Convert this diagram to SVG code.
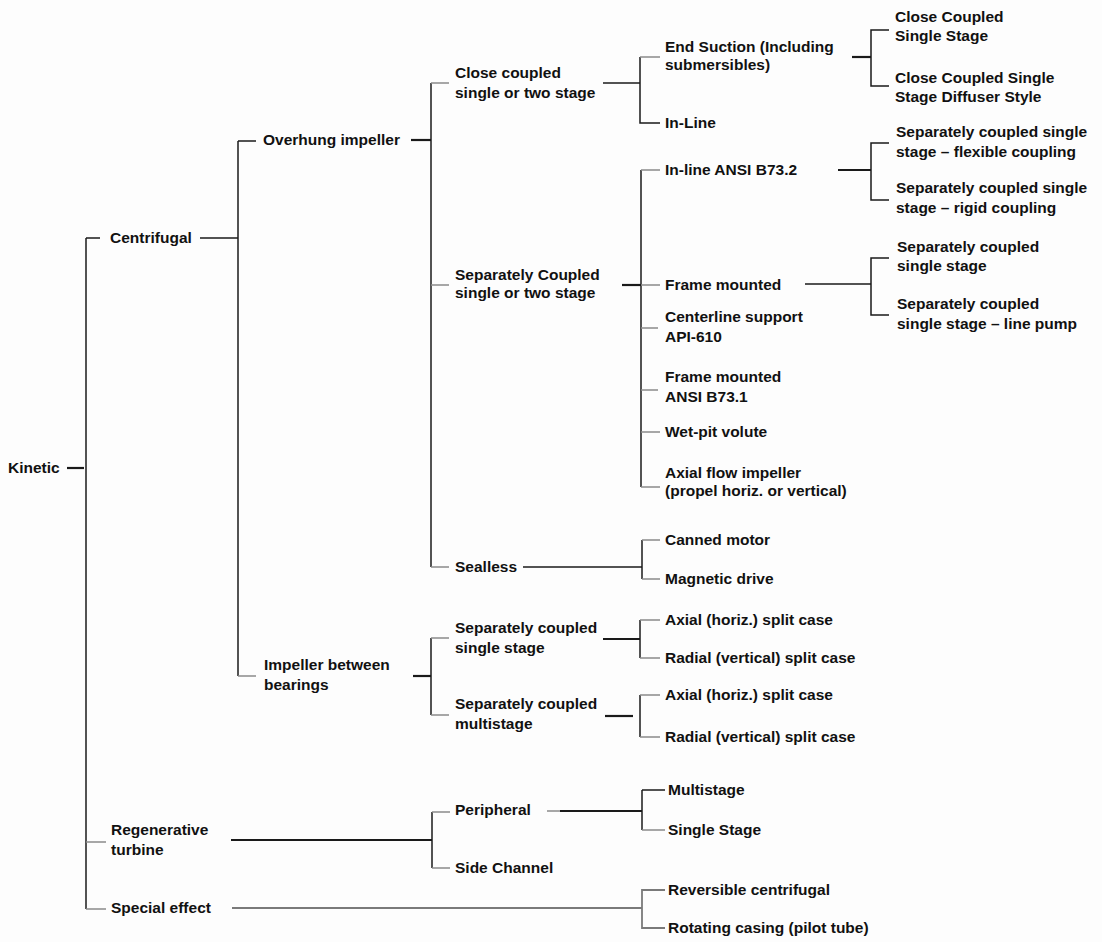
<svg xmlns="http://www.w3.org/2000/svg" width="1102" height="942" viewBox="0 0 1102 942">
<style>
text{font-family:"Liberation Sans",Arial,Helvetica,sans-serif;font-size:15.5px;font-weight:bold;fill:#111;}
.c{fill:none;stroke:#1a1a1a;stroke-width:1.5;}
.k{fill:none;stroke:#1a1a1a;stroke-width:2.2;}
.t{fill:none;stroke:#8a8a8a;stroke-width:1.5;}
.g{fill:none;stroke:#7a7a7a;stroke-width:1.8;}
</style>
<rect width="1102" height="942" fill="#fdfdfd"/>
<g id="connectors">
<!-- Kinetic -->
<path class="k" d="M67 468H84"/>
<path class="c" d="M86 238V909"/>
<path class="c" d="M86 238H100"/>
<path class="t" d="M86 842H106M86 909H106"/>
<!-- Centrifugal -->
<path class="c" d="M200 238H238"/>
<path class="c" d="M238 141V676"/>
<path class="c" d="M238 141H256"/>
<path class="t" d="M238 676H256"/>
<!-- Overhung -->
<path class="k" d="M411 140H431"/>
<path class="c" d="M431 83V567"/>
<path class="t" d="M431 83H449M431 285H449M431 567H449"/>
<!-- Impeller between bearings -->
<path class="k" d="M413 676H431"/>
<path class="c" d="M431 638V715"/>
<path class="t" d="M431 638H449M431 715H449"/>
<!-- Close coupled -->
<path class="c" d="M603 83H640"/>
<path class="c" d="M640 57V123H660"/>
<path class="t" d="M640 57H660"/>
<path class="k" d="M852 57H871"/>
<path class="c" d="M889 30H871V86H889"/>
<!-- Separately Coupled -->
<path class="k" d="M622 285H641"/>
<path class="c" d="M641 170V487"/>
<path class="t" d="M641 170H660M641 285H660M641 328H658M641 390H658M641 432H660M641 487H660"/>
<path class="k" d="M838 170H871"/>
<path class="c" d="M889 143H871V200H889"/>
<path class="c" d="M805 284H871"/>
<path class="c" d="M889 258H871V315H889"/>
<!-- Sealless -->
<path class="c" d="M523 567H642"/>
<path class="c" d="M642 540V579"/>
<path class="t" d="M642 540H660M642 579H660"/>
<!-- SC single stage -->
<path class="k" d="M603 639H640"/>
<path class="c" d="M640 620V658"/>
<path class="t" d="M640 620H660M640 658H660"/>
<!-- SC multistage -->
<path class="k" d="M605 716H633"/>
<path class="c" d="M640 695V737"/>
<path class="t" d="M640 695H660M640 737H660"/>
<!-- Regenerative -->
<path class="k" d="M231 840H432"/>
<path class="c" d="M432 812V868"/>
<path class="t" d="M432 812H450M432 868H450"/>
<path class="t" d="M547 811H560"/>
<path class="k" d="M560 811H642"/>
<path class="c" d="M642 790V830"/>
<path class="c" d="M642 790H665"/>
<path class="t" d="M642 830H665"/>
<!-- Special effect -->
<path class="g" d="M232 908H642"/>
<path class="g" d="M665 890H642V928H665"/>
</g>
<g id="n-kinetic"><text x="8" y="473">Kinetic</text></g>
<g id="n-centrifugal"><text x="110" y="243">Centrifugal</text></g>
<g id="n-overhung"><text x="263" y="145">Overhung impeller</text></g>
<g id="n-between"><text x="264" y="670">Impeller between</text><text x="264" y="690">bearings</text></g>
<g id="n-regenerative"><text x="111" y="835">Regenerative</text><text x="111" y="855">turbine</text></g>
<g id="n-special"><text x="111" y="913">Special effect</text></g>
<g id="n-closecoupled"><text x="455" y="78">Close coupled</text><text x="455" y="98">single or two stage</text></g>
<g id="n-sepcoupled"><text x="455" y="280">Separately Coupled</text><text x="455" y="298">single or two stage</text></g>
<g id="n-sealless"><text x="455" y="572">Sealless</text></g>
<g id="n-sc-single"><text x="455" y="633">Separately coupled</text><text x="455" y="653">single stage</text></g>
<g id="n-sc-multi"><text x="455" y="709">Separately coupled</text><text x="455" y="729">multistage</text></g>
<g id="n-peripheral"><text x="455" y="815">Peripheral</text></g>
<g id="n-sidechannel"><text x="455" y="873">Side Channel</text></g>
<g id="n-endsuction"><text x="665" y="52">End Suction (Including</text><text x="665" y="70">submersibles)</text></g>
<g id="n-inline"><text x="665" y="128">In-Line</text></g>
<g id="n-inline-ansi"><text x="665" y="175">In-line ANSI B73.2</text></g>
<g id="n-frame"><text x="665" y="290">Frame mounted</text></g>
<g id="n-centerline"><text x="665" y="322">Centerline support</text><text x="665" y="342">API-610</text></g>
<g id="n-frame-ansi"><text x="665" y="382">Frame mounted</text><text x="665" y="402">ANSI B73.1</text></g>
<g id="n-wetpit"><text x="665" y="437">Wet-pit volute</text></g>
<g id="n-axialflow"><text x="665" y="478">Axial flow impeller</text><text x="665" y="496">(propel horiz. or vertical)</text></g>
<g id="n-canned"><text x="665" y="545">Canned motor</text></g>
<g id="n-magnetic"><text x="665" y="584">Magnetic drive</text></g>
<g id="n-axial1"><text x="665" y="625">Axial (horiz.) split case</text></g>
<g id="n-radial1"><text x="665" y="663">Radial (vertical) split case</text></g>
<g id="n-axial2"><text x="665" y="700">Axial (horiz.) split case</text></g>
<g id="n-radial2"><text x="665" y="742">Radial (vertical) split case</text></g>
<g id="n-multistage"><text x="668" y="795">Multistage</text></g>
<g id="n-singlestage"><text x="668" y="835">Single Stage</text></g>
<g id="n-reversible"><text x="668" y="895">Reversible centrifugal</text></g>
<g id="n-rotating"><text x="668" y="933">Rotating casing (pilot tube)</text></g>
<g id="n-cc-single"><text x="895" y="22">Close Coupled</text><text x="895" y="41">Single Stage</text></g>
<g id="n-cc-diffuser"><text x="895" y="83">Close Coupled Single</text><text x="895" y="102">Stage Diffuser Style</text></g>
<g id="n-flex"><text x="896" y="137">Separately coupled single</text><text x="896" y="157">stage – flexible coupling</text></g>
<g id="n-rigid"><text x="896" y="193">Separately coupled single</text><text x="896" y="213">stage – rigid coupling</text></g>
<g id="n-fm-single"><text x="897" y="252">Separately coupled</text><text x="897" y="271">single stage</text></g>
<g id="n-fm-line"><text x="897" y="309">Separately coupled</text><text x="897" y="329">single stage – line pump</text></g>
</svg>
